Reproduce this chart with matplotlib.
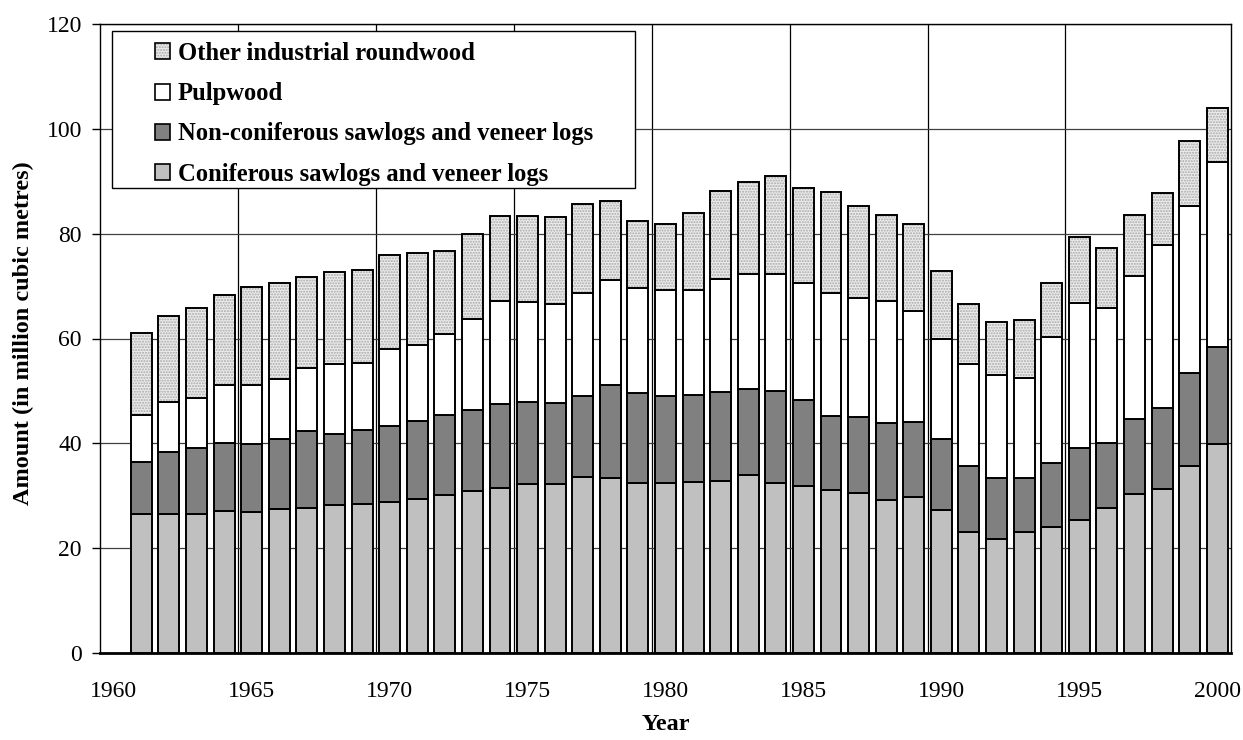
import matplotlib.pyplot as plt
import matplotlib.patches as mpatches
from matplotlib.legend_handler import HandlerTuple

plt.rcParams['font.family'] = ['Liberation Serif', 'DejaVu Serif']
plt.rcParams['hatch.linewidth'] = 1.0

# Industrial roundwood removals, million cubic metres
years = list(range(1961, 2001))
coniferous = [26.5, 26.6, 26.6, 27.0, 26.9, 27.5, 27.7, 28.2, 28.4, 28.9,
              29.3, 30.1, 31.0, 31.5, 32.3, 32.3, 33.5, 33.3, 32.5, 32.5,
              32.6, 32.9, 34.0, 32.5, 31.9, 31.1, 30.5, 29.2, 29.8, 27.3,
              23.1, 21.7, 23.1, 24.0, 25.4, 27.6, 30.3, 31.3, 35.7, 39.8]
non_coniferous = [9.9, 11.8, 12.5, 13.1, 13.0, 13.4, 14.6, 13.6, 14.1, 14.5,
                  14.9, 15.4, 15.4, 16.0, 15.5, 15.3, 15.5, 17.8, 17.1, 16.6,
                  16.6, 16.9, 16.3, 17.4, 16.4, 14.1, 14.5, 14.7, 14.3, 13.6,
                  12.6, 11.7, 10.3, 12.3, 13.8, 12.5, 14.3, 15.4, 17.8, 18.6]
pulpwood = [9.0, 9.4, 9.5, 11.1, 11.2, 11.4, 12.1, 13.4, 12.9, 14.6,
            14.6, 15.3, 17.4, 19.6, 19.2, 19.0, 19.7, 20.1, 20.1, 20.1,
            20.0, 21.6, 22.1, 22.5, 22.2, 23.5, 22.7, 23.2, 21.1, 19.1,
            19.4, 19.6, 19.0, 23.9, 27.5, 25.8, 27.4, 31.2, 31.8, 35.3]
other = [15.6, 16.4, 17.3, 17.1, 18.7, 18.3, 17.4, 17.5, 17.6, 18.0,
         17.5, 15.9, 16.1, 16.3, 16.4, 16.6, 17.0, 15.0, 12.8, 12.6,
         14.7, 16.8, 17.4, 18.6, 18.2, 19.3, 17.6, 16.4, 16.7, 12.9,
         11.5, 10.1, 11.1, 10.4, 12.7, 11.4, 11.6, 9.9, 12.3, 10.2]

labels = ['Coniferous sawlogs and veneer logs',
          'Non-coniferous sawlogs and veneer logs',
          'Pulpwood',
          'Other industrial roundwood']

fig = plt.figure(figsize=(12.43, 7.40), dpi=100)
ax = fig.add_axes([100 / 1243, 1 - 653 / 740, 1131 / 1243, 629 / 740])

w = 0.76
edge = dict(edgecolor='black', linewidth=1.4, zorder=3)

ax.bar(years, coniferous, w, color='#c0c0c0', **edge)
bottom = coniferous
ax.bar(years, non_coniferous, w, bottom=bottom, color='#808080', **edge)
bottom = [a + b for a, b in zip(bottom, non_coniferous)]
ax.bar(years, pulpwood, w, bottom=bottom, color='white', **edge)
bottom = [a + b for a, b in zip(bottom, pulpwood)]
# dotted fill, then black outline on top
ax.bar(years, other, w, bottom=bottom, color='#ececec', edgecolor='#a8a8a8',
       linewidth=0, hatch='......', zorder=3)
ax.bar(years, other, w, bottom=bottom, fill=False, **edge)

ax.set_xlim(1959.5, 2000.5)
ax.set_ylim(0, 120)
ax.set_xticks(range(1960, 2001, 5))
ax.set_xticks([1964.5 + 5 * i for i in range(7)], minor=True)
ax.set_yticks(range(0, 121, 20))
ax.grid(True, axis='x', which='minor', color='black', linewidth=0.9, zorder=0)
ax.grid(True, axis='y', which='major', color='#404040', linewidth=0.9, zorder=0)
ax.set_axisbelow(True)

ax.tick_params(axis='x', which='both', length=0, pad=20, labelsize=17)
ax.tick_params(axis='y', direction='out', length=6, width=1, pad=7, labelsize=17)

for s in ax.spines.values():
    s.set_color('black')
    s.set_linewidth(1.0)
ax.spines['bottom'].set_linewidth(2.0)

ax.set_xlabel('Year', fontsize=17.5, fontweight='bold', va='center')
ax.xaxis.set_label_coords(0.5, -0.114)
ax.set_ylabel('Amount (in million cubic metres)', fontsize=17.5,
              fontweight='bold', va='center')
ax.yaxis.set_label_coords(-0.068, 0.508)

# legend box
ax.add_patch(mpatches.Rectangle((12 / 1131, (653 - 188) / 629),
                                523 / 1131, 157 / 629, transform=ax.transAxes,
                                facecolor='white', edgecolor='black',
                                linewidth=1.0, zorder=4))
h_other = (mpatches.Patch(facecolor='#ececec', edgecolor='#a8a8a8',
                          linewidth=0, hatch='......'),
           mpatches.Patch(fill=False, edgecolor='black', linewidth=1.2))
h_pulp = mpatches.Patch(facecolor='white', edgecolor='black', linewidth=1.2)
h_non = mpatches.Patch(facecolor='#808080', edgecolor='black', linewidth=1.2)
h_con = mpatches.Patch(facecolor='#c0c0c0', edgecolor='black', linewidth=1.2)
leg = ax.legend([h_other, h_pulp, h_non, h_con],
                [labels[3], labels[2], labels[1], labels[0]],
                handler_map={tuple: HandlerTuple(ndivide=1)},
                loc='upper left', bbox_to_anchor=(55 / 1131, (653 - 42) / 629),
                frameon=False, borderpad=0, borderaxespad=0,
                prop={'size': 17.7, 'weight': 'bold'},
                handlelength=0.62, handleheight=0.62, handletextpad=0.3,
                labelspacing=0.70)
leg.set_zorder(5)

fig.savefig('out.png', dpi=100)
